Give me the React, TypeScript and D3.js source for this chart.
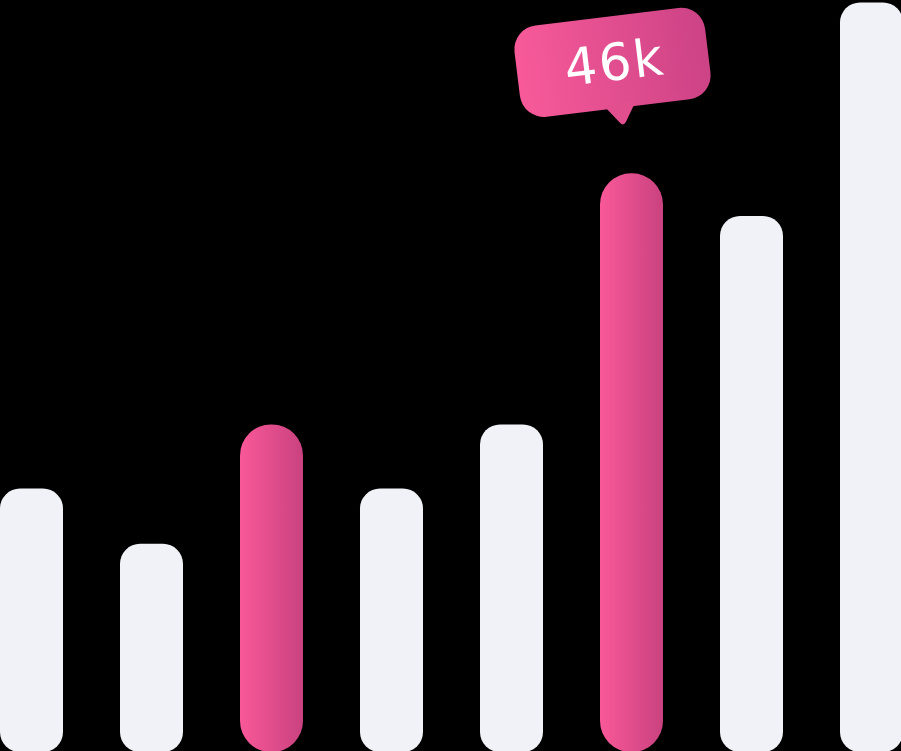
import * as d3 from 'd3';

const W = 901;
const H = 751;

// bar values (k)
const categories = ['1', '2', '3', '4', '5', '6', '7', '8'];
const values = [20.9, 16.5, 26, 20.9, 26, 46, 42.6, 59.6];
const highlighted = [false, false, true, false, false, true, false, false];
const tooltipIndex = 5;
const tooltipLabel = '46k';

export default function App() {
  const x = d3
    .scaleBand<string>()
    .domain(categories)
    .range([0, 903])
    .paddingInner(0.475)
    .paddingOuter(0)
    .align(0);
  const y = d3.scaleLinear().domain([0, 59.8]).range([H, 0]);
  const bw = x.bandwidth();

  const tipBar = categories[tooltipIndex];
  const tipX = (x(tipBar) ?? 0) + bw / 2 - 19;
  const tipY = y(values[tooltipIndex]) - 111;

  return (
    <>
      <style>{`body{margin:0;background:#000}`}</style>
      <svg width={W} height={H} style={{ display: 'block', background: '#000' }}>
        <defs>
          <linearGradient id="pinkBar" x1="0" x2="1" y1="0" y2="0">
            <stop offset="0%" stopColor="#f95898" />
            <stop offset="100%" stopColor="#c9427f" />
          </linearGradient>
          <linearGradient id="pinkTip" x1="0" x2="1" y1="0" y2="0">
            <stop offset="0%" stopColor="#f85a99" />
            <stop offset="100%" stopColor="#cc4386" />
          </linearGradient>
        </defs>
        <rect width={W} height={H} fill="#000" />
        {categories.map((c, i) => {
          const top = y(values[i]);
          const pink = highlighted[i];
          const r = pink ? 31 : 20;
          return (
            <rect
              key={c}
              x={x(c)}
              y={top}
              width={bw}
              height={H - top + 1}
              rx={r}
              ry={r}
              fill={pink ? 'url(#pinkBar)' : '#f1f2f7'}
            />
          );
        })}
        <g transform={`translate(${tipX},${tipY}) rotate(-7)`}>
          <rect x={-96} y={-46} width={192} height={92} rx={24} ry={24} fill="url(#pinkTip)" />
          <path d="M -14 42 L 0 61 Q 3 65 6 61 L 18 42 Z" fill="#e24f8f" />
          <text
            x={2}
            y={18}
            textAnchor="middle"
            fill="#fff"
            fontFamily="'DejaVu Sans', sans-serif"
            fontSize={51}
            letterSpacing={2}
          >
            {tooltipLabel}
          </text>
        </g>
      </svg>
    </>
  );
}
